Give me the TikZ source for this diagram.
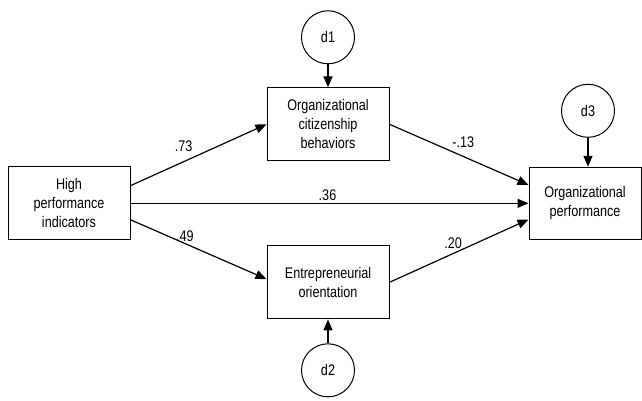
\documentclass[tikz,border=0pt]{standalone}
\usepackage{fontspec}
\setsansfont{Liberation Sans}[FakeStretch=0.82]
\tikzset{every picture/.style={/utils/exec={\sffamily}}}
\usetikzlibrary{positioning}
\usetikzlibrary{arrows.meta}

\begin{document}
\begin{tikzpicture}[every node/.style={font=\fontsize{15.4}{19}\selectfont, align=center},
    var/.style={draw, line width=1pt, minimum width=122pt, minimum height=73pt, inner sep=0pt},
    err/.style={draw, circle, line width=1pt, minimum size=53pt, inner sep=0pt},
    path/.style={-{Triangle[length=11pt,width=9pt]}, line width=1.2pt},
    coef/.style={inner sep=1pt}]
  \useasboundingbox (0,0) rectangle (642pt,401pt);

  \node [var] at (69pt,197.7pt) (high) {High\\performance\\indicators};
  \node [var, right=136pt of high, yshift=79pt] (ocb) {Organizational\\citizenship\\behaviors};
  \node [var, right=136pt of high, yshift=-79pt] (eo) {Entrepreneurial\\orientation};
  \node [var, minimum width=112pt, minimum height=72pt, right=398pt of high] (op) {Organizational\\performance};

  \node [err, above=23pt of ocb] (d1) {d1};
  \node [err, below=24pt of eo] (d2) {d2};
  \node [err, above=29pt of op, xshift=3pt] (d3) {d3};

  \draw [path] (d1) -- (ocb);
  \draw [path] (d2) -- (eo);
  \draw [path] (d3) -- (d3 |- op.north);

  \draw [path] (high.16) -- node [coef, pos=.39, above=8.5pt] {.73} (ocb.west);
  \draw [path] (high.east) -- node [coef, pos=.495, above=1.4pt] {.36} (op.west);
  \draw [path] (high.-15) -- node [coef, pos=.40, above=0pt] {.49} (eo.177);
  \draw [path] (ocb.east) -- node [coef, pos=.53, above=7.5pt] {-.13} (op.162);
  \draw [path] (eo.east) -- node [coef, pos=.457, above=3.5pt] {.20} (op.196);
\end{tikzpicture}
\end{document}
